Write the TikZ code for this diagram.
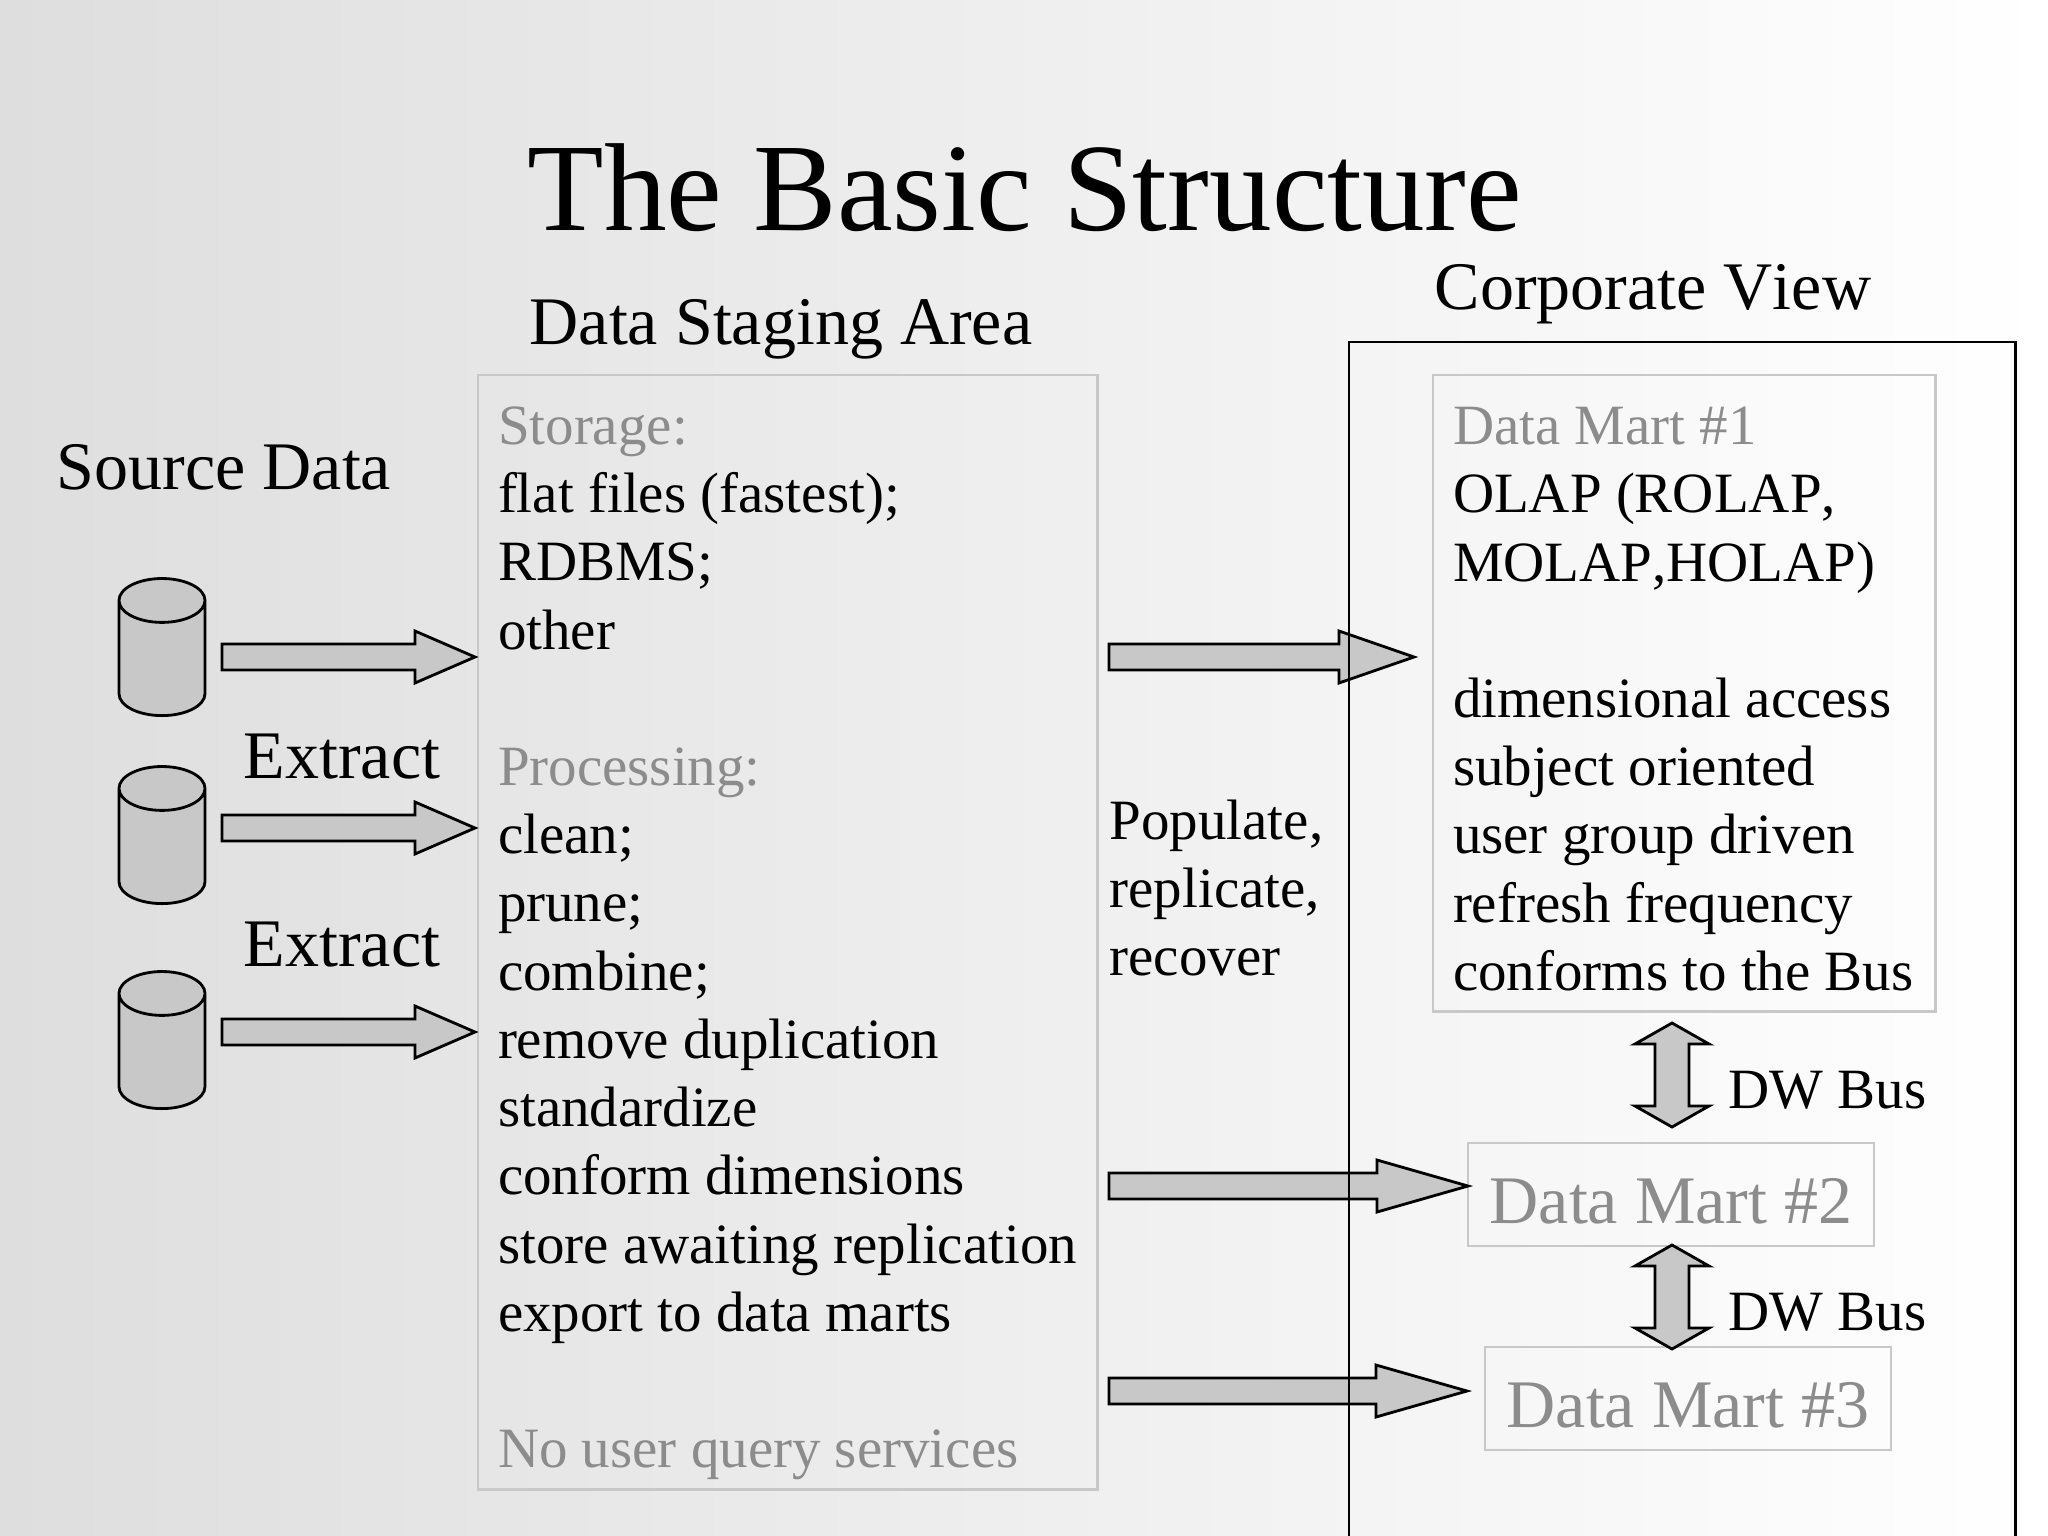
\documentclass[tikz,border=0pt]{standalone}
\usepackage{fontspec}
\setmainfont[Kerning=Off]{Liberation Serif}
\usetikzlibrary{positioning,shapes.geometric,calc}
\definecolor{Slate}{HTML}{DEDEDE}
\definecolor{Metal}{HTML}{C8C8C8}
\definecolor{Frame}{HTML}{C8C8C8}
\definecolor{Faded}{HTML}{8C8C8C}
\newcommand{\bodyfont}{\fontsize{16.2}{19.4}\selectfont}
\newcommand{\headfont}{\fontsize{19.35}{23}\selectfont}

\begin{document}
\begin{tikzpicture}[
      x=0.01cm,y=-0.01cm,
      heading/.style={anchor=base west,inner sep=0pt,font=\headfont},
      caption/.style={anchor=base west,inner sep=0pt,font=\bodyfont},
      panel/.style={draw=Frame,line width=0.7pt,anchor=north west,inner xsep=0.2cm,outer sep=0pt,
        inner ysep=0pt,align=flush left,font=\bodyfont},
      martbox/.style={draw=Frame,line width=0.7pt,anchor=north west,inner sep=0pt,outer sep=0pt,
        text=Faded,font=\headfont,text height=16.5pt,text depth=0pt},
      source/.style={draw=black,fill=Metal,line width=0.8pt,cylinder,shape border rotate=90,
        aspect=0.51,minimum width=0.86cm,minimum height=1.37cm,inner sep=0.43cm,anchor=south},
      blockarrow/.style={draw=black,fill=Metal,line width=0.8pt,to path={
        ($(\tikztostart)+(0,-13)$) -- ($(\tikztotarget)+(-#1,-13)$) -- ($(\tikztotarget)+(-#1,-26)$)
        -- (\tikztotarget) -- ($(\tikztotarget)+(-#1,26)$) -- ($(\tikztotarget)+(-#1,13)$)
        -- ($(\tikztostart)+(0,13)$) -- cycle}},
      busarrow/.style={draw=black,fill=Metal,line width=0.8pt,to path={
        (\tikztostart) -- ($(\tikztostart)+(37,21)$) -- ($(\tikztostart)+(17,21)$)
        -- ($(\tikztotarget)+(17,-21)$) -- ($(\tikztotarget)+(37,-21)$) -- (\tikztotarget)
        -- ($(\tikztotarget)+(-37,-21)$) -- ($(\tikztotarget)+(-17,-21)$)
        -- ($(\tikztostart)+(-17,21)$) -- ($(\tikztostart)+(-37,21)$) -- cycle}}
    ]
      \shade[left color=Slate,right color=white] (0,0) rectangle (2048,1536);
      \useasboundingbox (0,0) rectangle (2048,1536);

      \node[anchor=base,inner sep=0pt,font=\fontsize{35.6}{40}\selectfont] (title) at (1025,230) {The Basic Structure};
      \node[heading] (stagingtitle) at (529,344) {Data Staging Area};
      \node[heading] (corporate) at (1434,309) {Corporate View};
      \node[heading] (sourcedata) at (56,489) {Source Data};
      \node[heading] (extractA) at (243,778) {Extract};
      \node[heading] (extractB) at (243,966) {Extract};

      \node[source] (cylA) at (162,717) {};
      \node[source] (cylB) at (162,905) {};
      \node[source] (cylC) at (162,1110) {};

      \node[panel,minimum width=6.19cm,minimum height=11.14cm,text width=5.79cm] (staging) at (478,375)
        {\rule{0pt}{17pt}\textcolor{Faded}{Storage:}\\
         flat files (fastest);\\
         RDBMS;\\
         other\\
         \mbox{}\\
         \textcolor{Faded}{Processing:}\\
         clean;\\
         prune;\\
         combine;\\
         remove duplication\\
         standardize\\
         conform dimensions\\
         store awaiting replication\\
         export to data marts\\
         \mbox{}\\
         \textcolor{Faded}{No user query services}};

      \node[panel,minimum width=5.02cm,minimum height=6.36cm,text width=4.62cm] (martA) at (1433,375)
        {\rule{0pt}{14pt}\textcolor{Faded}{Data Mart \#1}\\
         OLAP (ROLAP,\\
         MOLAP,HOLAP)\\
         \mbox{}\\
         dimensional access\\
         subject oriented\\
         user group driven\\
         refresh frequency\\
         conforms to the Bus};
      \node[martbox,minimum width=4.06cm,minimum height=1.03cm] (martB) at (1468,1143) {Data Mart \#2};
      \node[martbox,minimum width=4.06cm,minimum height=1.03cm] (martC) at (1485,1347) {Data Mart \#3};

      \node[anchor=west,inner sep=0pt,align=left,font=\bodyfont] (populate) at (1109,888)
        {Populate,\\replicate,\\recover};
      \node[caption] (busA) at (1728,1108) {DW Bus};
      \node[caption] (busB) at (1728,1330) {DW Bus};

      \coordinate (tailA) at (222,657);
      \coordinate (tailB) at (222,828);
      \coordinate (tailC) at (222,1032);
      \coordinate (popA) at (1109,657);
      \coordinate (popB) at (1109,1186);
      \coordinate (popC) at (1109,1391);
      \coordinate (tipA) at (1414,657);
      \coordinate (tipB) at (martB.west |- popB);
      \coordinate (tipC) at (1467,1391);

      \draw[blockarrow=60] (tailA) to ($(staging.west |- tailA)+(-3,0)$);
      \draw[blockarrow=60] (tailB) to ($(staging.west |- tailB)+(-3,0)$);
      \draw[blockarrow=60] (tailC) to ($(staging.west |- tailC)+(-3,0)$);
      \draw[blockarrow=75] (popA) to (tipA);
      \draw[blockarrow=91] (popB) to (tipB);
      \draw[blockarrow=91] (popC) to (tipC);

      \coordinate (busAtop) at (1672,1023);
      \coordinate (busAbot) at (1672,1127);
      \coordinate (busBtop) at (1672,1245);
      \coordinate (busBbot) at (1672,1349);
      \draw[busarrow] (busAtop) to (busAbot);
      \draw[busarrow] (busBtop) to (busBbot);

      \node[draw=black,line width=0.7pt,anchor=north west,minimum width=6.66cm,minimum height=11.94cm,inner sep=0pt] (corporatebox) at (1348,341) {};
    \end{tikzpicture}
\end{document}
